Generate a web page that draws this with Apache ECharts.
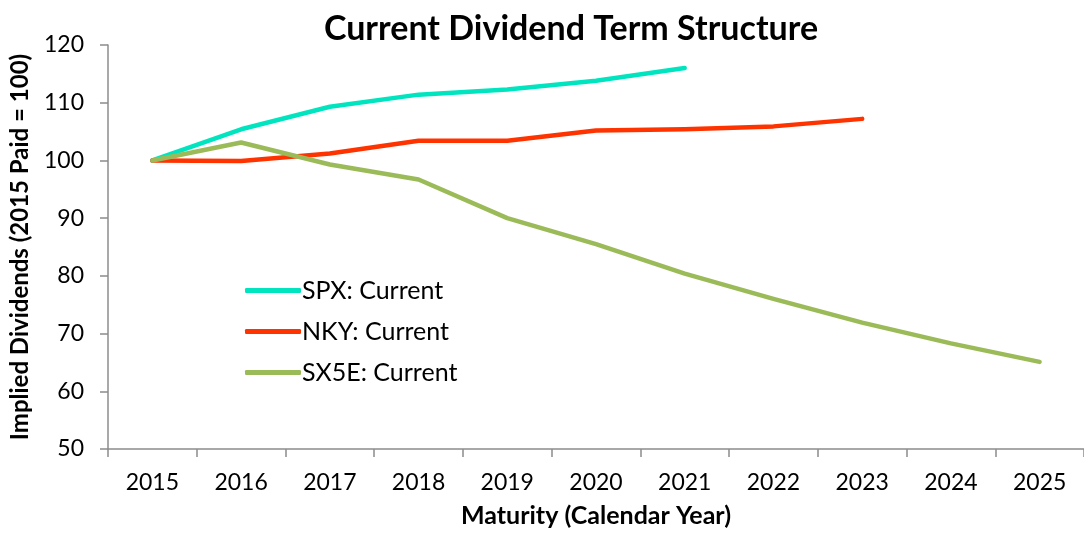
<!DOCTYPE html>
<html>
<head>
<meta charset="utf-8">
<script src="https://cdn.jsdelivr.net/npm/echarts@6/dist/echarts.min.js"></script>
<style>
  html, body { margin: 0; padding: 0; background: #fff; }
  #chart { width: 1084px; height: 533px; }
</style>
</head>
<body>
<div id="chart"></div>
<script>
// maturity years
const years = ['2015', '2016', '2017', '2018', '2019', '2020', '2021', '2022', '2023', '2024', '2025'];
// implied dividends, 2015 paid = 100
const spx = [100, 105.4, 109.3, 111.4, 112.3, 113.8, 116.0];
const nky = [100, 99.9, 101.2, 103.4, 103.4, 105.2, 105.4, 105.9, 107.2];
const sx5e = [100, 103.1, 99.3, 96.7, 90.0, 85.5, 80.4, 76.0, 71.9, 68.3, 65.1];

const font = 'Lato, "Open Sans", sans-serif';
const axisGrey = '#8c8c8c';

const chart = echarts.init(document.getElementById('chart'));

function lineSeries(name, data, color) {
  return {
    name: name,
    type: 'line',
    data: data,
    symbol: 'none',
    lineStyle: { color: color, width: 4.5, cap: 'round', join: 'round' },
    itemStyle: { color: color }
  };
}

const option = {
  backgroundColor: '#fff',
  animation: false,
  title: {
    text: 'Current Dividend Term Structure',
    left: 566,
    textAlign: 'center',
    top: 7,
    textStyle: { fontFamily: font, fontSize: 34, fontWeight: 'bold', color: '#000' }
  },
  legend: {
    orient: 'vertical',
    left: 240,
    top: 273,
    itemGap: 16,
    itemWidth: 56,
    itemHeight: 5,
    icon: 'roundRect',
    textStyle: { fontFamily: font, fontSize: 25, color: '#000', padding: [0, 0, 0, -4] },
    data: ['SPX: Current', 'NKY: Current', 'SX5E: Current']
  },
  grid: { left: 108, top: 45, width: 982, bottom: 81, containLabel: false },
  xAxis: {
    type: 'category',
    data: years,
    boundaryGap: true,
    name: 'Maturity (Calendar Year)',
    nameLocation: 'middle',
    nameGap: 54,
    nameTextStyle: { fontFamily: font, fontSize: 25, fontWeight: 'bold', color: '#000' },
    axisLine: { lineStyle: { color: axisGrey, width: 1.5 } },
    axisTick: { show: true, length: 8, lineStyle: { color: axisGrey, width: 1.5 } },
    axisLabel: { fontFamily: font, fontSize: 23, color: '#000', margin: 22 },
    splitLine: { show: false }
  },
  yAxis: {
    type: 'value',
    min: 50,
    max: 120,
    interval: 10,
    name: 'Implied Dividends (2015 Paid = 100)',
    nameLocation: 'middle',
    nameGap: 76,
    nameTextStyle: { fontFamily: font, fontSize: 24, fontWeight: 'bold', color: '#000' },
    axisLine: { show: true, lineStyle: { color: axisGrey, width: 1.5 } },
    axisTick: { show: true, length: 8, lineStyle: { color: axisGrey, width: 1.5 } },
    axisLabel: { fontFamily: font, fontSize: 23, color: '#000', margin: 24 },
    splitLine: { show: false }
  },
  series: [
    lineSeries('SPX: Current', spx, '#00E5BF'),
    lineSeries('NKY: Current', nky, '#FF3300'),
    lineSeries('SX5E: Current', sx5e, '#9BBB59')
  ]
};

chart.setOption(option);
</script>
</body>
</html>
